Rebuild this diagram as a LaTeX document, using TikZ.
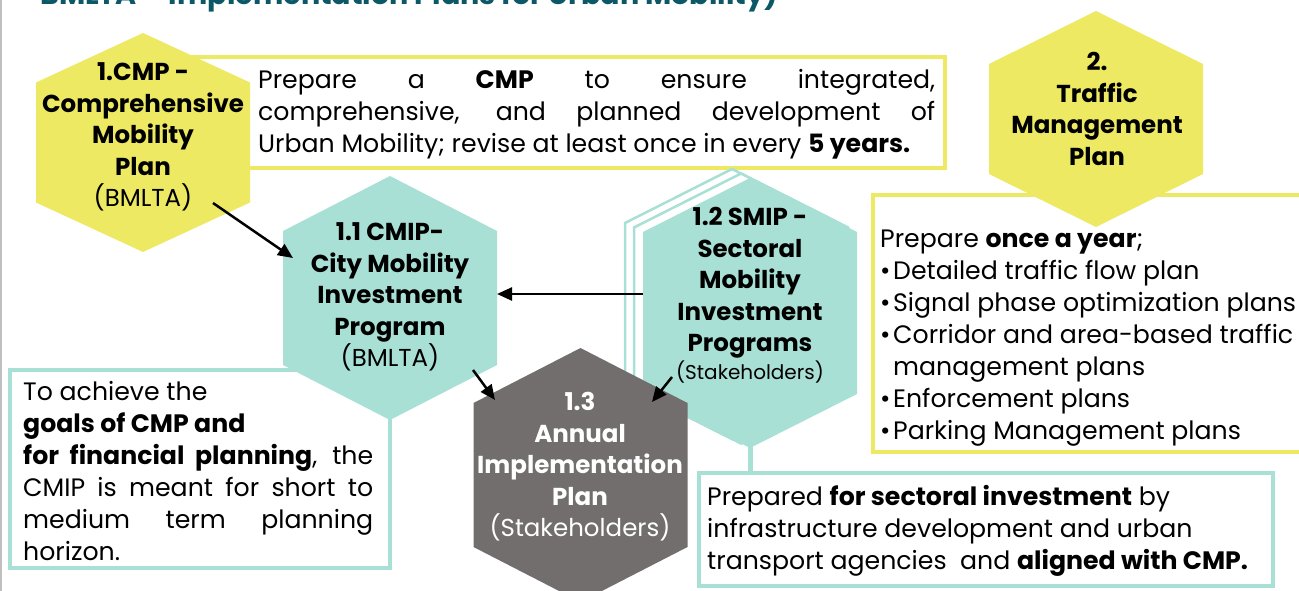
\documentclass[tikz,border=0pt]{standalone}
\usepackage{fontspec}
\setmainfont{Poppins}
\usetikzlibrary{arrows.meta}
\definecolor{Yellow}{RGB}{237,233,98}
\definecolor{Teal}{RGB}{168,224,213}
\definecolor{Grey}{RGB}{114,110,109}
\definecolor{Title}{RGB}{12,88,102}
\setlength{\parindent}{0pt}
\newcommand{\hexa}[5][]{\path[#1] (#2,#3-#4) -- (#2+107,#3-#5) -- (#2+107,#3+#5) -- (#2,#3+#4) -- (#2-107,#3+#5) -- (#2-107,#3-#5) -- cycle;}
\newcommand{\tbul}{\makebox[13pt][l]{\textbullet}}
\tikzset{
  head/.style={align=center, inner sep=0pt, font=\fontsize{24.5}{31.5}\selectfont\bfseries},
  txt/.style={inner sep=0pt, font=\fontsize{25.2}{32}\selectfont},
  frame/.style={line width=4pt},
  link/.style={line width=2.5pt, -{Triangle[length=15pt,width=13pt]}},
}

\begin{document}
\begin{tikzpicture}[x=1pt, y=-1pt]
	\clip (0,0) rectangle (1299,591);
	\draw[gray!50, line width=2pt] (1,0) -- (1,591);
	\node[anchor=base west, inner sep=0pt, text=Title, font=\fontsize{28.6}{29}\selectfont\bfseries] (title) at (40,5) {BMLTA -- Implementation Plans for Urban Mobility)};

	\draw[frame, Yellow, fill=white] (150,57) rectangle (945,168);
	\draw[frame, Yellow, fill=white] (873,195) rectangle (1320,452);
	\draw[frame, Teal, fill=white] (10,370) rectangle (390,568);
	\draw[frame, Teal, fill=white] (699,473) rectangle (1273,586);
	\draw[Teal, line width=5pt] (750,430) -- (750,473);

	\hexa[fill=Yellow]{143}{142.5}{109.5}{60}
	\hexa[fill=Yellow]{1096}{119}{108}{55}
	\hexa[fill=Teal]{390}{298}{122}{67}
	\hexa[fill=white, draw=Teal, line width=2.5pt]{732}{304}{135}{81}
	\hexa[fill=white, draw=Teal, line width=2.5pt]{741}{308.5}{135}{81}
	\hexa[fill=Teal]{750}{313}{135}{81}
	\hexa[fill=Grey]{580.5}{475}{127}{72}

	\node[head] (cmp) at (143,137) {1.CMP -\\Comprehensive\\Mobility\\Plan\\\mdseries(BMLTA)};
	\node[head] (tmp) at (1097,109) {2.\\Traffic\\Management\\Plan};
	\node[head] (cmip) at (390,297) {1.1 CMIP-\\City Mobility\\Investment\\Program\\\mdseries(BMLTA)};
	\node[head] (smip) at (750,295) {1.2 SMIP -\\Sectoral\\Mobility\\Investment\\Programs\\[-4pt]\mdseries\fontsize{20}{22}\selectfont(Stakeholders)};
	\node[head, text=white] (aip) at (580,467) {1.3\\Annual\\Implementation\\Plan\\\mdseries(Stakeholders)};

	\node[txt, anchor=west, text width=677pt, align=justify] (cmptxt) at (258,114) {Prepare a \textbf{CMP} to ensure integrated,\linebreak comprehensive, and planned development of\linebreak Urban Mobility; revise at least once in every \textbf{5 years.}};
	\node[txt, anchor=west, align=left] (tmptxt) at (880,338) {Prepare \textbf{once a year};\\\tbul Detailed traffic flow plan\\\tbul Signal phase optimization plans\\\tbul Corridor and area-based traffic\\\hspace*{13pt}management plans\\\tbul Enforcement plans\\\tbul Parking Management plans};
	\node[txt, anchor=west, text width=350pt, align=justify] (cmiptxt) at (23,471) {To achieve the\newline \textbf{goals of CMP and}\newline \textbf{for financial planning}, the\linebreak CMIP is meant for short to\linebreak medium term planning\linebreak horizon.};
	\node[txt, anchor=west, align=left] (smiptxt) at (707,531) {Prepared \textbf{for sectoral investment} by\\infrastructure development and urban\\transport agencies\ \ and \textbf{aligned with CMP.}};

	\coordinate (cmp-out) at (213,203);
	\coordinate (cmip-in) at (293,258);
	\coordinate (smip-w) at (643,294);
	\coordinate (cmip-e) at (497,294);
	\coordinate (cmip-out) at (473,370);
	\coordinate (aip-nw) at (495,400);
	\coordinate (smip-out) at (672,377);
	\coordinate (aip-ne) at (652,402);
	\draw[link] (cmp-out) -- (cmip-in);
	\draw[link] (smip-w) -- (cmip-e);
	\draw[link] (cmip-out) -- (aip-nw);
	\draw[link] (smip-out) -- (aip-ne);
\end{tikzpicture}
\end{document}
